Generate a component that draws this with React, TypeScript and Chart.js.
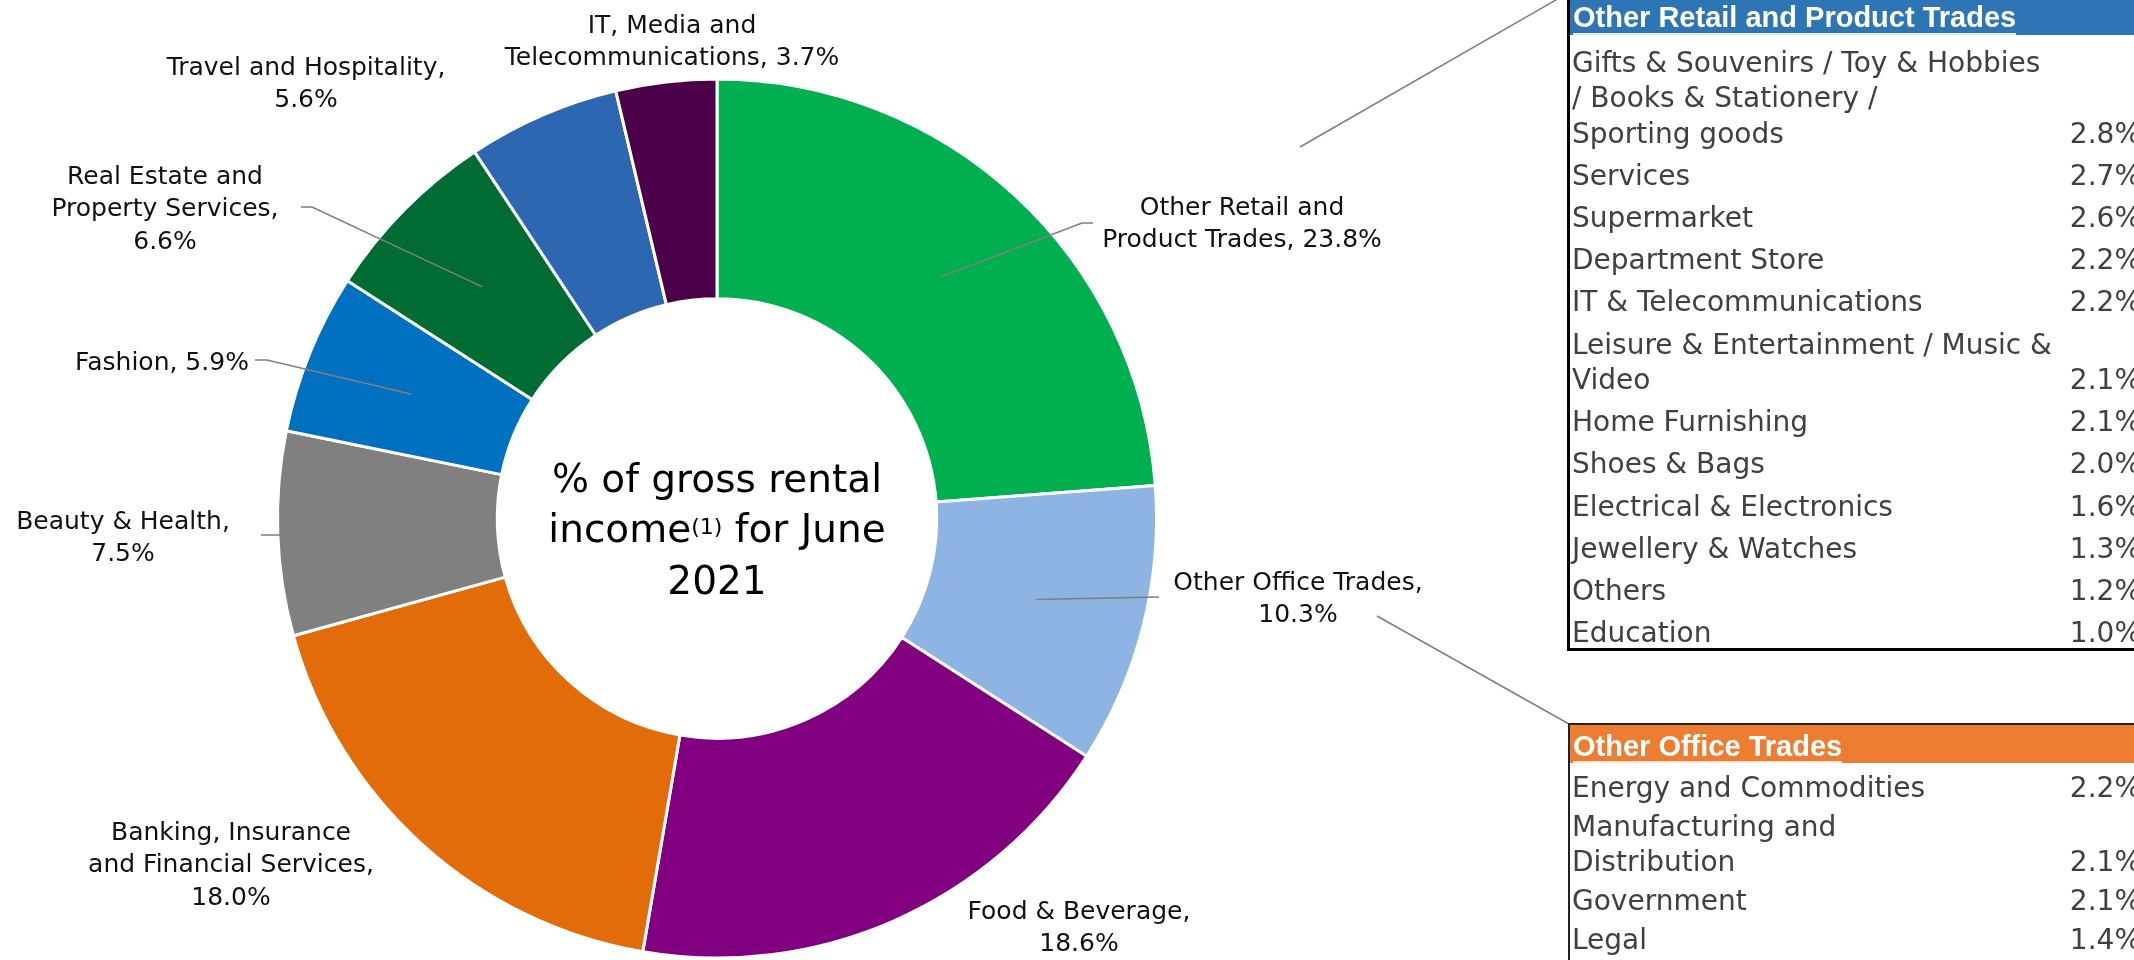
import React, { useEffect, useRef } from "react";
import { Chart, registerables } from "chart.js";

Chart.register(...registerables);

// ---------- data ----------
const categories = [
  "Other Retail and Product Trades",
  "Other Office Trades",
  "Food & Beverage",
  "Banking, Insurance and Financial Services",
  "Beauty & Health",
  "Fashion",
  "Real Estate and Property Services",
  "Travel and Hospitality",
  "IT, Media and Telecommunications",
];
const shares = [23.8, 10.3, 18.6, 18.0, 7.5, 5.9, 6.6, 5.6, 3.7];

const labelLines = [
  ["Other Retail and", "Product Trades, {v}"],
  ["Other Office Trades,", "{v}"],
  ["Food & Beverage,", "{v}"],
  ["Banking, Insurance", "and Financial Services,", "{v}"],
  ["Beauty & Health,", "{v}"],
  ["Fashion, {v}"],
  ["Real Estate and", "Property Services,", "{v}"],
  ["Travel and Hospitality,", "{v}"],
  ["IT, Media and", "Telecommunications, {v}"],
];

const centerLine1 = "% of gross rental";
const centerLine2 = ["income", "(1)", " for June"];
const centerLine3 = "2021";

const retailTitle = "Other Retail and Product Trades";
const retailItems = [
  "Gifts & Souvenirs / Toy & Hobbies\n/ Books & Stationery /\nSporting goods",
  "Services",
  "Supermarket",
  "Department Store",
  "IT & Telecommunications",
  "Leisure & Entertainment / Music &\nVideo",
  "Home Furnishing",
  "Shoes & Bags",
  "Electrical & Electronics",
  "Jewellery & Watches",
  "Others",
  "Education",
];
const retailValues = [2.8, 2.7, 2.6, 2.2, 2.2, 2.1, 2.1, 2.0, 1.6, 1.3, 1.2, 1.0];

const officeTitle = "Other Office Trades";
const officeItems = ["Energy and Commodities", "Manufacturing and\nDistribution", "Government", "Legal"];
const officeValues = [2.2, 2.1, 2.1, 1.4];

// ---------- styles / layout ----------
const sliceColors = [
  "#00AF50",
  "#8EB4E3",
  "#800080",
  "#E36C0A",
  "#808080",
  "#0070C0",
  "#006B32",
  "#2E67B1",
  "#4B0049",
];
const labelAnchors: [number, number][] = [
  [1242, 208],
  [1298, 583],
  [1079, 912],
  [231, 833],
  [123, 522],
  [162, 363],
  [165, 177],
  [306, 68],
  [672, 26],
];
const leaderStarts: ([number, number][] | null)[] = [
  [[1093, 223], [1082, 223]],
  [[1159, 597]],
  null,
  null,
  [[261, 535], [277, 535]],
  [[255, 360], [267, 360]],
  [[301, 207], [312, 207]],
  null,
  null,
];
const calloutLines: [number, number][][] = [
  [[1300, 147], [1568, -7]],
  [[1377, 616], [1569, 724]],
];

const LABEL_FONT = '25px "DejaVu Sans"';
const LABEL_LINE = 32.5;
const TABLE_FONT = '28px "DejaVu Sans"';
const HEAD_FONT = 'bold 29px "Liberation Sans"';

const labelPlugin = {
  id: "customLabels",
  afterDatasetsDraw(chart: any) {
    const ctx = chart.ctx as CanvasRenderingContext2D;
    const meta = chart.getDatasetMeta(0);
    ctx.save();
    // leader lines
    ctx.strokeStyle = "#7F7F7F";
    ctx.lineWidth = 1.5;
    meta.data.forEach((arc: any, i: number) => {
      const pts = leaderStarts[i];
      if (!pts) return;
      const c = arc.getCenterPoint();
      ctx.beginPath();
      ctx.moveTo(pts[0][0], pts[0][1]);
      for (let k = 1; k < pts.length; k++) ctx.lineTo(pts[k][0], pts[k][1]);
      ctx.lineTo(c.x, c.y);
      ctx.stroke();
    });
    // callouts to tables
    calloutLines.forEach((pts) => {
      ctx.beginPath();
      ctx.moveTo(pts[0][0], pts[0][1]);
      for (let k = 1; k < pts.length; k++) ctx.lineTo(pts[k][0], pts[k][1]);
      ctx.stroke();
    });
    // slice labels
    ctx.fillStyle = "#111";
    ctx.font = LABEL_FONT;
    ctx.textAlign = "center";
    ctx.textBaseline = "middle";
    labelLines.forEach((lines, i) => {
      const [x, y] = labelAnchors[i];
      const v = shares[i].toFixed(1) + "%";
      lines.forEach((ln, j) => {
        ctx.fillText(ln.replace("{v}", v), x, y + j * LABEL_LINE);
      });
    });
    // centre text
    const cx = meta.data[0].x;
    ctx.fillStyle = "#000";
    ctx.textBaseline = "alphabetic";
    ctx.textAlign = "center";
    ctx.font = '39px "DejaVu Sans"';
    ctx.fillText(centerLine1, cx, 492);
    ctx.fillText(centerLine3, cx, 594);
    const w1 = ctx.measureText(centerLine2[0]).width;
    const w3 = ctx.measureText(centerLine2[2]).width;
    ctx.font = '22px "DejaVu Sans"';
    const w2 = ctx.measureText(centerLine2[1]).width;
    let x0 = cx - (w1 + w2 + w3) / 2;
    ctx.textAlign = "left";
    ctx.font = '39px "DejaVu Sans"';
    ctx.fillText(centerLine2[0], x0, 542);
    ctx.font = '22px "DejaVu Sans"';
    ctx.fillText(centerLine2[1], x0 + w1, 534);
    ctx.font = '39px "DejaVu Sans"';
    ctx.fillText(centerLine2[2], x0 + w1 + w2, 542);
    ctx.restore();
  },
};

function SubTable(props: {
  title: string;
  items: string[];
  values: number[];
  color: string;
  underline: string;
  box: React.CSSProperties;
  headPad: number;
  headLine: number;
  bodyPad: number;
  rowLine: number;
  rowPad: number;
}) {
  const { title, items, values, color, underline, box, headPad, headLine, bodyPad, rowLine, rowPad } = props;
  return (
    <div style={{ position: "absolute", boxSizing: "border-box", overflow: "hidden", ...box }}>
      <div style={{ background: color, paddingLeft: 3 }}>
        <span
          style={{
            display: "inline-block",
            font: HEAD_FONT,
            color: "#fff",
            paddingTop: headPad,
            lineHeight: headLine + "px",
            borderBottom: "2px solid " + underline,
            whiteSpace: "nowrap",
          }}
        >
          {title}
        </span>
      </div>
      <div style={{ paddingTop: bodyPad, paddingLeft: 2, font: TABLE_FONT, color: "#404040" }}>
        {items.map((it, i) => (
          <div
            key={i}
            style={{
              display: "flex",
              justifyContent: "space-between",
              alignItems: "flex-end",
              padding: rowPad + "px 0",
              lineHeight: rowLine + "px",
            }}
          >
            <span style={{ whiteSpace: "pre-line" }}>{it}</span>
            <span style={{ whiteSpace: "nowrap" }}>{values[i].toFixed(1)}%</span>
          </div>
        ))}
      </div>
    </div>
  );
}

export default function App() {
  const canvasRef = useRef<HTMLCanvasElement | null>(null);

  useEffect(() => {
    const canvas = canvasRef.current;
    if (!canvas) return;
    const chart = new Chart(canvas, {
      type: "doughnut",
      data: {
        labels: categories,
        datasets: [
          {
            data: shares,
            backgroundColor: sliceColors,
            borderColor: "#ffffff",
            borderWidth: 3,
          },
        ],
      },
      options: {
        responsive: false,
        animation: false,
        cutout: "50%",
        layout: { padding: { left: 276, right: 976, top: 77, bottom: 0 } },
        plugins: {
          legend: { display: false },
          tooltip: { enabled: false },
        },
      },
      plugins: [labelPlugin as any],
    });
    return () => chart.destroy();
  }, []);

  return (
    <div
      style={{
        position: "fixed",
        left: 0,
        top: 0,
        width: 2134,
        height: 960,
        overflow: "hidden",
        background: "#fff",
      }}
    >
      <canvas ref={canvasRef} width={2134} height={960} style={{ position: "absolute", left: 0, top: 0 }} />
      <SubTable
        title={retailTitle}
        items={retailItems}
        values={retailValues}
        color="#2E75B6"
        underline="#DDEBF7"
        box={{ left: 1567, top: 0, width: 574, height: 651, borderLeft: "3px solid #000", borderBottom: "3px solid #000" }}
        headPad={2}
        headLine={31}
        bodyPad={6.5}
        rowLine={35.4}
        rowPad={3.4}
      />
      <SubTable
        title={officeTitle}
        items={officeItems}
        values={officeValues}
        color="#ED7D31"
        underline="#FBE5D6"
        box={{ left: 1568, top: 723, width: 573, height: 260, borderLeft: "2px solid #222", borderTop: "2px solid #222" }}
        headPad={6}
        headLine={30}
        bodyPad={4.5}
        rowLine={35}
        rowPad={2}
      />
    </div>
  );
}
